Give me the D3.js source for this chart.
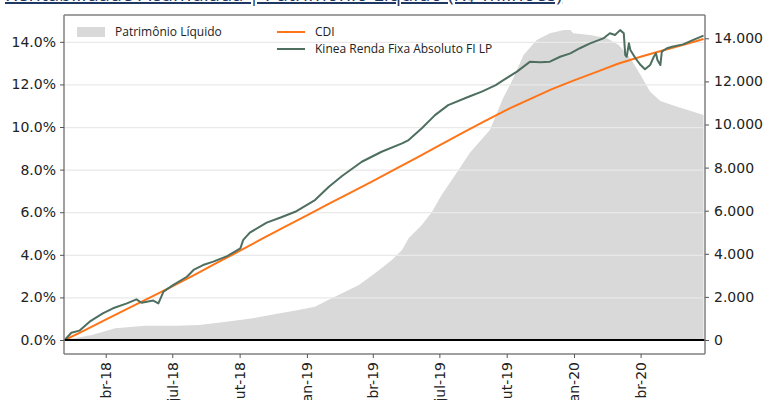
<!DOCTYPE html>
<html lang="pt-BR">
<head>
<meta charset="UTF-8">
<title>Rentabilidade Acumulada | Patrimônio Líquido</title>
<script src="https://d3js.org/d3.v7.min.js"></script>
<style>
    body{ margin:0; background:#fff; }
    .chart text{ font-family:"DejaVu Sans",sans-serif; fill:#222; }
    .axis path{ stroke:#808080; stroke-width:1.5; }
    .axis line{ stroke:#555; }
    .axis text{ font-size:14px; }
    .legend text{ font-family:"Open Sans",sans-serif; font-size:12px; fill:#222; }
    .grid line{ stroke:#e9e9e9; stroke-width:1.2; }
    .grid path{ display:none; }
</style>
</head>
<body>
<svg class="chart"></svg>
<script>
    // dados
    let cdiDates=["2018-02-04","2018-03-01","2018-04-01","2018-05-01","2018-06-01","2018-07-01","2018-08-01","2018-09-01","2018-10-01","2018-11-01","2018-12-01","2019-01-01","2019-02-01","2019-03-01","2019-04-01","2019-05-01","2019-06-01","2019-07-01","2019-08-01","2019-09-01","2019-10-01","2019-11-01","2019-12-01","2020-01-01","2020-02-01","2020-03-01","2020-04-01","2020-05-01","2020-06-01","2020-06-26"];
    let cdiValues=[0,0.42,0.96,1.47,2.0,2.52,3.07,3.64,4.18,4.76,5.30,5.85,6.41,6.91,7.46,8.01,8.58,9.14,9.71,10.28,10.81,11.30,11.77,12.19,12.59,12.97,13.30,13.59,13.89,14.13];

    let kineaDates=["2018-02-04","2018-02-13","2018-02-24","2018-03-10","2018-03-28","2018-04-11","2018-04-30","2018-05-13","2018-05-20","2018-06-05","2018-06-12","2018-06-19","2018-07-02","2018-07-21","2018-07-30","2018-08-12","2018-08-26","2018-09-14","2018-10-02","2018-10-06","2018-10-15","2018-11-07","2018-11-26","2018-12-16","2019-01-12","2019-01-31","2019-02-18","2019-03-17","2019-04-13","2019-05-11","2019-05-20","2019-06-07","2019-06-25","2019-07-13","2019-08-10","2019-08-28","2019-09-16","2019-09-27","2019-10-15","2019-11-02","2019-11-16","2019-11-29","2019-12-13","2019-12-27","2020-01-09","2020-01-23","2020-02-10","2020-02-19","2020-02-26","2020-03-04","2020-03-09","2020-03-11","2020-03-13","2020-03-16","2020-03-18","2020-03-25","2020-04-01","2020-04-07","2020-04-14","2020-04-19","2020-04-22","2020-04-24","2020-04-28","2020-04-30","2020-05-07","2020-05-14","2020-05-29","2020-06-12","2020-06-26"];
    let kineaValues=[0,0.34,0.44,0.86,1.25,1.49,1.72,1.91,1.75,1.85,1.72,2.27,2.58,2.97,3.29,3.52,3.68,3.94,4.3,4.7,5.04,5.51,5.75,6.02,6.57,7.2,7.7,8.37,8.84,9.23,9.39,9.94,10.56,11.03,11.42,11.66,11.97,12.21,12.6,13.07,13.04,13.07,13.3,13.46,13.7,13.93,14.16,14.4,14.32,14.55,14.4,13.38,13.3,13.93,13.62,13.23,12.91,12.71,12.91,13.3,13.46,13.15,12.91,13.54,13.7,13.77,13.88,14.09,14.29];

    let plDates=["2018-02-04","2018-03-13","2018-04-14","2018-05-25","2018-07-06","2018-08-07","2018-09-13","2018-10-19","2018-11-25","2018-12-15","2019-01-12","2019-01-30","2019-02-18","2019-03-13","2019-04-04","2019-04-27","2019-05-11","2019-05-20","2019-06-07","2019-06-21","2019-07-04","2019-07-18","2019-08-12","2019-09-08","2019-09-26","2019-10-10","2019-10-24","2019-11-11","2019-11-29","2019-12-18","2019-12-27","2019-12-31","2020-01-23","2020-02-15","2020-03-02","2020-03-18","2020-04-01","2020-04-14","2020-04-28","2020-05-21","2020-06-26"];
    let plValues=[0,232,543,664,664,696,849,1007,1239,1360,1545,1856,2167,2552,3095,3712,4176,4719,5336,5953,6728,7424,8700,9744,11215,12143,13224,13920,14231,14384,14384,14231,14152,14000,13688,13071,12296,11521,11090,10825,10440];

    let leftTicks=[0,2,4,6,8,10,12,14];
    let rightTicks=[0,2000,4000,6000,8000,10000,12000,14000];
    let monthNames=["jan","fev","mar","abr","mai","jun","jul","ago","set","out","nov","dez"];
    let xTickDates=["2018-04-01","2018-07-01","2018-10-01","2019-01-01","2019-04-01","2019-07-01","2019-10-01","2020-01-01","2020-04-01"];
    let titleText="Rentabilidade Acumulada | Patrimônio Líquido (R$ milhões)";

    let parse=d3.timeParse("%Y-%m-%d");
    let cdi=cdiDates.map((d,i)=>({date:parse(d),value:cdiValues[i]}));
    let kinea=kineaDates.map((d,i)=>({date:parse(d),value:kineaValues[i]}));
    let pl=plDates.map((d,i)=>({date:parse(d),value:plValues[i]}));

    let margin={top:15,right:58,bottom:46,left:64};
    let W=763,H=400;
    let width=W-margin.left-margin.right,height=H-margin.top-margin.bottom;

    let x=d3.scaleTime()
            .domain([parse("2018-02-03"),parse("2020-06-28")])
            .range([0,width]);
    let y=d3.scaleLinear()
            .domain([-0.657,15.26])
            .range([height,0]);
    let y2=d3.scaleLinear()
            .domain([-650,15081])
            .range([height,0]);

    let svg=d3.select('.chart')
            .attr('width',W)
            .attr('height',H);

    // título (cortado no topo, como no original)
    svg.append('text')
        .attr('x',5)
        .attr('y',1)
        .style('font-family','"Open Sans",sans-serif')
        .style('font-size','20px')
        .style('fill','#1f3864')
        .style('text-decoration','underline')
        .text(titleText);

    let chart=svg.append('g')
            .attr('transform','translate('+margin.left+','+margin.top+')');

    // patrimônio líquido (eixo direito)
    chart.append('path')
        .datum(pl)
        .attr('fill','#d9d9d9')
        .attr('d',d3.area()
            .x(d=>x(d.date))
            .y0(y2(0))
            .y1(d=>y2(d.value)));

    // grade
    chart.append('g')
        .attr('class','grid')
        .call(d3.axisLeft(y).tickValues(leftTicks).tickSize(-width).tickFormat(''));

    let line=d3.line()
            .x(d=>x(d.date))
            .y(d=>y(d.value));

    chart.append('path')
        .datum(cdi)
        .attr('fill','none')
        .attr('stroke','#ff7417')
        .attr('stroke-width',2)
        .attr('d',line);

    chart.append('path')
        .datum(kinea)
        .attr('fill','none')
        .attr('stroke','#4e6f5f')
        .attr('stroke-width',2)
        .attr('stroke-linejoin','round')
        .attr('d',line);

    // linha do zero
    chart.append('line')
        .attr('x1',0).attr('x2',width)
        .attr('y1',y(0)).attr('y2',y(0))
        .attr('stroke','#000')
        .attr('stroke-width',2);

    // eixos
    let fmtPct=d=>d.toFixed(1)+'%';
    let br=d3.formatLocale({decimal:',',thousands:'.',grouping:[3],currency:['R$','']});
    let fmtPl=br.format(',.0f');

    chart.append('g')
        .attr('class','axis axis--y')
        .call(d3.axisLeft(y).tickValues(leftTicks).tickFormat(fmtPct).tickSize(4).tickPadding(4))
        .call(g=>g.select('.domain').attr('d','M0,0V'+height));

    chart.append('g')
        .attr('class','axis axis--y2')
        .attr('transform','translate('+width+',0)')
        .call(d3.axisRight(y2).tickValues(rightTicks).tickFormat(fmtPl).tickSize(4).tickPadding(5))
        .call(g=>g.select('.domain').attr('d','M0,0V'+height));

    chart.append('g')
        .attr('class','axis axis--x')
        .attr('transform','translate(0,'+height+')')
        .call(d3.axisBottom(x)
            .tickValues(xTickDates.map(parse))
            .tickFormat(d=>monthNames[d.getMonth()]+'-'+String(d.getFullYear()).slice(2))
            .tickSize(4))
        .call(g=>g.select('.domain').attr('d','M0,0H'+width))
        .selectAll('text')
            .attr('transform','rotate(-90)')
            .attr('text-anchor','end')
            .attr('x',-8)
            .attr('y',0)
            .attr('dy','0.35em');

    // borda superior
    chart.append('line')
        .attr('x1',0).attr('x2',width)
        .attr('y1',0).attr('y2',0)
        .attr('stroke','#808080')
        .attr('stroke-width',1.5);

    // legenda
    let legend=chart.append('g').attr('class','legend');
    legend.append('rect')
        .attr('x',13).attr('y',12)
        .attr('width',28).attr('height',10)
        .attr('fill','#d9d9d9');
    legend.append('text')
        .attr('x',51).attr('y',17).attr('dy','0.35em')
        .text('Patrimônio Líquido');

    let items=[{name:'CDI',color:'#ff7417'},{name:'Kinea Renda Fixa Absoluto FI LP',color:'#4e6f5f'}];
    items.forEach((it,i)=>{
        legend.append('line')
            .attr('x1',213).attr('x2',241)
            .attr('y1',17+i*17).attr('y2',17+i*17)
            .attr('stroke',it.color)
            .attr('stroke-width',2);
        legend.append('text')
            .attr('x',251).attr('y',17+i*17).attr('dy','0.35em')
            .text(it.name);
    });
</script>
</body>
</html>
